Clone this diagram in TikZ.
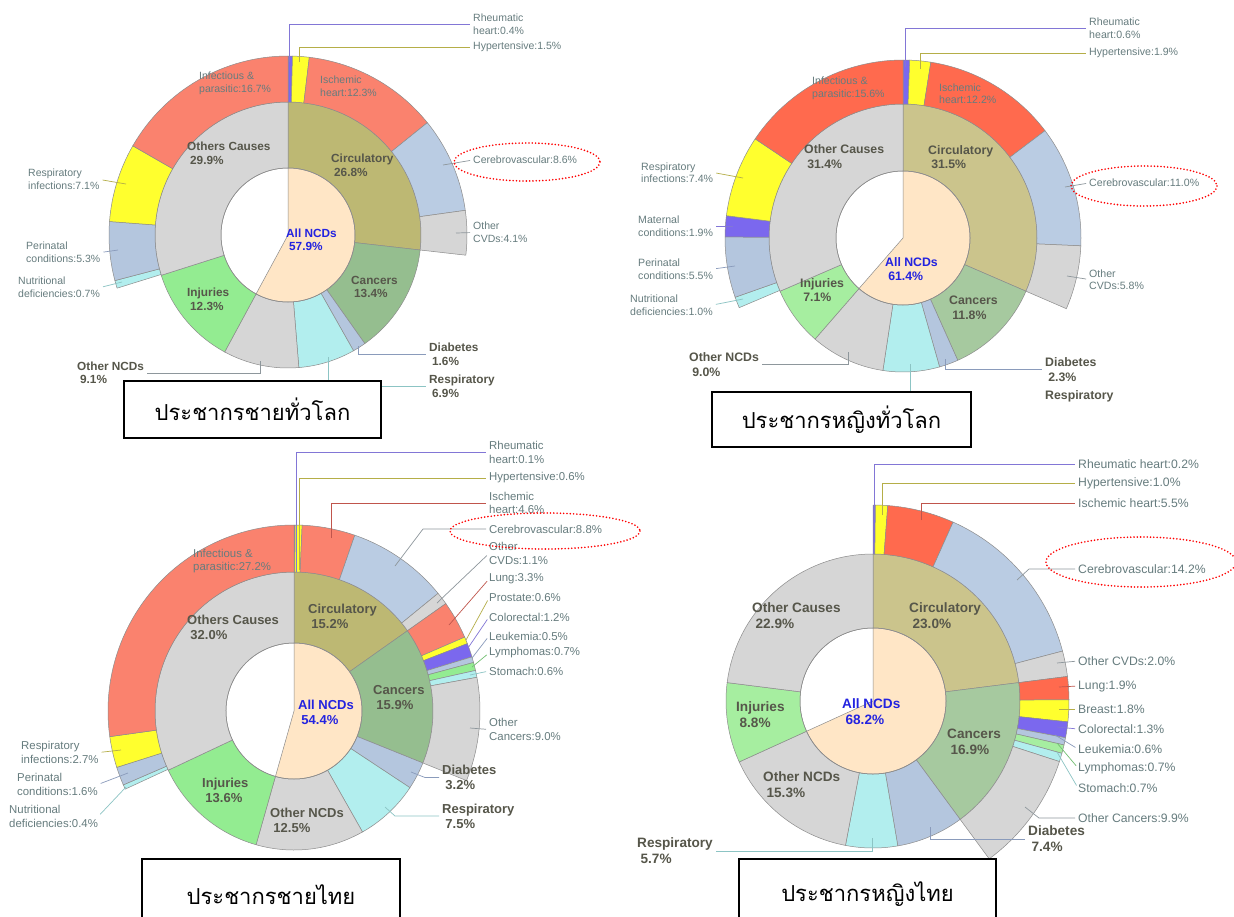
\documentclass[tikz,border=0pt]{standalone}
\usepackage{fontspec}
\setmainfont{Liberation Sans}
\newfontfamily\thaifont[Script=Thai]{Loma}
\definecolor{nbeige}{HTML}{FFE6C6}
\definecolor{circA}{HTML}{BDB873}
\definecolor{circB}{HTML}{CBC48C}
\definecolor{cancA}{HTML}{95BE8F}
\definecolor{cancB}{HTML}{A6C99F}
\definecolor{diab}{HTML}{B4C6DE}
\definecolor{resp}{HTML}{B2EEEE}
\definecolor{othr}{HTML}{D6D6D6}
\definecolor{injA}{HTML}{93EC91}
\definecolor{injB}{HTML}{A6EEA0}
\definecolor{rheu}{HTML}{7B68EE}
\definecolor{hyp}{HTML}{FFFF2E}
\definecolor{iscA}{HTML}{FA826E}
\definecolor{iscB}{HTML}{FF6A4E}
\definecolor{cere}{HTML}{BACCE3}
\definecolor{segline}{HTML}{8C8C8C}
\definecolor{lblgray}{HTML}{667C7E}
\definecolor{bldgray}{HTML}{56564A}
\definecolor{ncdblue}{HTML}{2323E0}
\definecolor{rheuline}{HTML}{8276D6}
\definecolor{hypline}{HTML}{B5AE48}
\definecolor{iscline}{HTML}{C0554C}
\definecolor{greyline}{HTML}{8E979C}
\definecolor{blueline}{HTML}{8A9BBB}
\definecolor{tealline}{HTML}{8CC4C4}
\definecolor{greenline}{HTML}{72C072}

% one piece of a ring: inner radius, outer radius, from %, to %, colour
\newcommand{\ringseg}[5]{%
  \filldraw[seg, fill=#5] ({-90+3.6*(#3)}:#1)
    arc[start angle={-90+3.6*(#3)}, end angle={-90+3.6*(#4)}, radius=#1]
    -- ({-90+3.6*(#4)}:#2)
    arc[start angle={-90+3.6*(#4)}, end angle={-90+3.6*(#3)}, radius=#2] -- cycle;}
\newcommand{\ncdwedge}[2]{%
  \filldraw[seg, fill=nbeige] (0,0) -- (-90:#1)
    arc[start angle=-90, end angle={-90+3.6*(#2)}, radius=#1] -- cycle;
  \draw[seg] (0,0) circle[radius=#1];}
\newcommand{\indline}{\\\hspace*{.25em}}

\begin{document}
\begin{tikzpicture}[x=1pt, y=-1pt,
    seg/.style={draw=segline, line width=0.5pt},
    lbl/.style={lblfont, text=lblgray, align=left, inner sep=0pt, anchor=west},
    bld/.style={bldfont, text=bldgray, align=left, inner sep=0pt, anchor=west},
    ncd/.style={bld, text=ncdblue},
    lead/.style={line width=0.7pt, shorten >=3pt},
    hilite/.style={draw=red, line width=1.8pt, dash pattern=on 0pt off 3.3pt, line cap=round},
    titlebox/.style={draw=black, line width=1.5pt, fill=white, inner sep=0pt,
        font=\thaifont\fontsize{22}{26}\selectfont},
    lblfont/.style={font=\fontsize{10.5}{13}\selectfont},
    bldfont/.style={font=\bfseries\fontsize{11.8}{13.5}\selectfont}]
    \useasboundingbox (0,0) rectangle (1234,916);
    \fill[white] (0,0) rectangle (1234,916);

    % male, world
    \begin{scope}
        \begin{scope}[shift={(288,235)}]
            \foreach \a/\b/\c in {0/26.8/circA, 26.8/40.2/cancA, 40.2/41.8/diab, 41.8/48.7/resp,
                48.7/57.9/othr, 57.9/70.1/injA, 70.1/100/othr}
                {\ringseg{67}{133}{\a}{\b}{\c}}
            \foreach \a/\b/\c in {0/0.4/rheu, 0.4/1.9/hyp, 1.9/14.2/iscA, 14.2/22.8/cere, 22.8/26.8/othr,
                70.2/70.9/resp, 70.9/76.2/diab, 76.2/83.3/hyp, 83.3/100/iscA}
                {\ringseg{133}{179}{\a}{\b}{\c}}
            \ncdwedge{67}{57.9}
        \end{scope}
        \node[lbl] (is1) at (320,86) {Ischemic\\heart:12.3\%};
        \node[lbl] (in1) at (199,83) {Infectious \&\\parasitic:16.7\%};
        \node[bld] (oc1) at (187,153.5) {Others Causes\indline29.9\%};
        \node[bld] (ci1) at (331,165.5) {Circulatory\indline26.8\%};
        \node[ncd] (nc1) at (286,240) {All NCDs\indline57.9\%};
        \node[bld] (ca1) at (351,287) {Cancers\indline13.4\%};
        \node[bld] (ij1) at (187,299.5) {Injuries\indline12.3\%};

        \node[lbl] (rh1) at (473,24) {Rheumatic\\heart:0.4\%};
        \node[lbl] (hy1) at (473,47) {Hypertensive:1.5\%};
        \node[lbl] (ce1) at (473,160) {Cerebrovascular:8.6\%};
        \node[lbl] (ov1) at (473,232.5) {Other\\CVDs:4.1\%};
        \node[lbl] (ri1) at (28,179.5) {Respiratory\\infections:7.1\%};
        \node[lbl] (pe1) at (26,252.5) {Perinatal\\conditions:5.3\%};
        \node[lbl] (nu1) at (18,287.5) {Nutritional\\deficiencies:0.7\%};
        \node[bld] (di1) at (429,354.5) {Diabetes\indline1.6\%};
        \node[bld] (re1) at (429,386.5) {Respiratory\indline6.9\%};
        \node[bld] (on1) at (77,373) {Other NCDs\indline9.1\%};

        \coordinate (rh1p) at (289,62);
        \coordinate (hy1p) at (299,62);
        \coordinate (ce1p) at (443,165);
        \coordinate (ov1p) at (456,233);
        \coordinate (ri1p) at (126,184);
        \coordinate (pe1p) at (118,250);
        \coordinate (nu1p) at (122,282);
        \coordinate (di1p) at (358,346);
        \coordinate (re1p) at (328,357);
        \coordinate (on1p) at (260,361);
        \draw[lead, rheuline] (rh1p) |- (rh1.west);
        \draw[lead, hypline] (hy1p) |- (hy1.west);
        \draw[lead, greyline] (ce1p) -- (ce1.west);
        \draw[lead, greyline] (ov1p) -- (ov1.west);
        \draw[lead, hypline] (ri1p) -- (ri1.east);
        \draw[lead, blueline] (pe1p) -- (pe1.east);
        \draw[lead, tealline] (nu1p) -- (nu1.east);
        \draw[lead, blueline] (di1p) |- (di1.west);
        \draw[lead, tealline] (re1p) |- (re1.west);
        \draw[lead, greyline] (on1p) |- (on1.east);
        \draw[hilite] (527,162) ellipse[x radius=73, y radius=19];
        \node[titlebox, minimum width=257pt, minimum height=57pt] (t1) at (252.5,409.5) {ประชากรชายทั่วโลก};
    \end{scope}

    % female, world
    \begin{scope}[lblfont/.style={font=\fontsize{10.6}{12.5}\selectfont},
        bldfont/.style={font=\bfseries\fontsize{12.3}{14.5}\selectfont}]
        \begin{scope}[shift={(903,238)}]
            \foreach \a/\b/\c in {0/31.5/circB, 31.5/43.3/cancB, 43.3/45.6/diab, 45.6/52.4/resp,
                52.4/61.4/othr, 61.4/68.5/injB, 68.5/100/othr}
                {\ringseg{67}{134}{\a}{\b}{\c}}
            \foreach \a/\b/\c in {0/0.6/rheu, 0.6/2.5/hyp, 2.5/14.7/iscB, 14.7/25.7/cere, 25.7/31.5/othr,
                68.6/69.6/resp, 69.6/75.1/diab, 75.1/77.0/rheu, 77.0/84.4/hyp, 84.4/100/iscB}
                {\ringseg{134}{178}{\a}{\b}{\c}}
            \ncdwedge{67}{61.4}
        \end{scope}
        \node[lbl] (is2) at (939,93.5) {Ischemic\\heart:12.2\%};
        \node[lbl] (in2) at (812,88.5) {Infectious \&\\parasitic:15.6\%};
        \node[bld] (oc2) at (804,156.5) {Other Causes\indline31.4\%};
        \node[bld] (ci2) at (928,157) {Circulatory\indline31.5\%};
        \node[ncd] (nc2) at (885,269) {All NCDs\indline61.4\%};
        \node[bld] (ca2) at (949,308) {Cancers\indline11.8\%};
        \node[bld] (ij2) at (800,290) {Injuries\indline7.1\%};

        \node[lbl] (rh2) at (1089,28) {Rheumatic\\heart:0.6\%};
        \node[lbl] (hy2) at (1089,53) {Hypertensive:1.9\%};
        \node[lbl] (ce2) at (1089,183) {Cerebrovascular:11.0\%};
        \node[lbl] (ov2) at (1089,279.5) {Other\\CVDs:5.8\%};
        \node[lbl] (ri2) at (641,172.5) {Respiratory\\infections:7.4\%};
        \node[lbl] (ma2) at (638,226) {Maternal\\conditions:1.9\%};
        \node[lbl] (pe2) at (638,269) {Perinatal\\conditions:5.5\%};
        \node[lbl] (nu2) at (630,305) {Nutritional\\deficiencies:1.0\%};
        \node[bld] (di2) at (1045,369.5) {Diabetes\indline2.3\%};
        \node[bld] (re2) at (1045,396) {Respiratory};
        \node[bld] (on2) at (689,364.5) {Other NCDs\indline9.0\%};

        \coordinate (rh2p) at (905,67);
        \coordinate (hy2p) at (920,69);
        \coordinate (ce2p) at (1065,187);
        \coordinate (ov2p) at (1067,276);
        \coordinate (ri2p) at (743,178);
        \coordinate (ma2p) at (733,226);
        \coordinate (pe2p) at (735,266);
        \coordinate (nu2p) at (743,299);
        \coordinate (di2p) at (945,359);
        \coordinate (re2p) at (910,364);
        \coordinate (re2e) at (910,400);
        \coordinate (on2p) at (848,352);
        \draw[lead, rheuline] (rh2p) |- (rh2.west);
        \draw[lead, hypline] (hy2p) |- (hy2.west);
        \draw[lead, greyline] (ce2p) -- (ce2.west);
        \draw[lead, greyline] (ov2p) -- (ov2.west);
        \draw[lead, hypline] (ri2p) -- (ri2.east);
        \draw[lead, rheuline] (ma2p) -- (ma2.east);
        \draw[lead, blueline] (pe2p) -- (pe2.east);
        \draw[lead, tealline] (nu2p) -- (nu2.east);
        \draw[lead, blueline] (di2p) |- (di2.west);
        \draw[lead, tealline] (re2p) -- (re2e);
        \draw[lead, greyline] (on2p) |- (on2.east);
        \draw[hilite] (1144,186) ellipse[x radius=73, y radius=20];
        \node[titlebox, minimum width=259pt, minimum height=55pt] (t2) at (841.5,419.5) {ประชากรหญิงทั่วโลก};
    \end{scope}

    % male, Thailand
    \begin{scope}[lblfont/.style={font=\fontsize{11.4}{13.5}\selectfont},
        bldfont/.style={font=\bfseries\fontsize{13}{15}\selectfont}]
        \begin{scope}[shift={(294,711)}]
            \foreach \a/\b/\c in {0/15.2/circA, 15.2/31.1/cancA, 31.1/34.3/diab, 34.3/41.8/resp,
                41.8/54.4/othr, 54.4/68.0/injA, 68.0/100/othr}
                {\ringseg{68}{139}{\a}{\b}{\c}}
            \foreach \a/\b/\c in {0/0.1/rheu, 0.1/0.7/hyp, 0.7/5.3/iscA, 5.3/14.1/cere, 14.1/15.2/othr,
                15.2/18.5/iscA, 18.5/19.1/hyp, 19.1/20.3/rheu, 20.3/20.8/diab, 20.8/21.5/injA,
                21.5/22.1/resp, 22.1/31.1/othr,
                68.1/68.5/resp, 68.5/70.1/diab, 70.1/72.8/hyp, 72.8/100/iscA}
                {\ringseg{139}{186}{\a}{\b}{\c}}
            \ncdwedge{68}{54.4}
        \end{scope}
        \node[lbl] (in3) at (193,561) {Infectious \&\\parasitic:27.2\%};
        \node[bld] (oc3) at (187,627.5) {Others Causes\indline32.0\%};
        \node[bld] (ci3) at (308,616) {Circulatory\indline15.2\%};
        \node[bld] (ca3) at (373,697.5) {Cancers\indline15.9\%};
        \node[ncd] (nc3) at (298,712.5) {All NCDs\indline54.4\%};
        \node[bld] (ij3) at (202,790) {Injuries\indline13.6\%};
        \node[bld] (on3) at (270,820.5) {Other NCDs\indline12.5\%};

        \node[lbl] (rh3) at (489,452.5) {Rheumatic\\heart:0.1\%};
        \node[lbl] (hy3) at (489,478) {Hypertensive:0.6\%};
        \node[lbl] (is3) at (489,503) {Ischemic\\heart:4.6\%};
        \node[lbl] (ce3) at (489,529) {Cerebrovascular:8.8\%};
        \node[lbl] (ov3) at (489,553.5) {Other\\CVDs:1.1\%};
        \node[lbl] (lu3) at (489,579) {Lung:3.3\%};
        \node[lbl] (pr3) at (489,598) {Prostate:0.6\%};
        \node[lbl] (co3) at (489,617) {Colorectal:1.2\%};
        \node[lbl] (le3) at (489,636) {Leukemia:0.5\%};
        \node[lbl] (ly3) at (489,653) {Lymphomas:0.7\%};
        \node[lbl] (st3) at (489,671) {Stomach:0.6\%};
        \node[lbl] (ok3) at (489,729.5) {Other\\Cancers:9.0\%};
        \node[bld] (di3) at (442,777.5) {Diabetes\indline3.2\%};
        \node[bld] (re3) at (442,816) {Respiratory\indline7.5\%};
        \node[lbl] (ri3) at (21,752.5) {Respiratory\\infections:2.7\%};
        \node[lbl] (pe3) at (17,784.5) {Perinatal\\conditions:1.6\%};
        \node[lbl] (nu3) at (9,816.5) {Nutritional\\deficiencies:0.4\%};

        \coordinate (rh3p) at (296,572);
        \coordinate (hy3p) at (299,570);
        \coordinate (is3p) at (331,538);
        \coordinate (ce3p) at (395,566);
        \coordinate (ce3k) at (423,529);
        \coordinate (ov3p) at (437,603);
        \coordinate (lu3p) at (449,625);
        \coordinate (pr3p) at (466,640);
        \coordinate (co3p) at (468,648);
        \coordinate (le3p) at (472,658);
        \coordinate (ly3p) at (472,667);
        \coordinate (st3p) at (470,675);
        \coordinate (ok3p) at (470,728);
        \coordinate (di3p) at (411,772);
        \coordinate (di3k) at (425,777.5);
        \coordinate (re3p) at (385,807);
        \coordinate (re3k) at (395,816);
        \coordinate (ri3p) at (121,750);
        \coordinate (pe3p) at (128,773);
        \coordinate (nu3p) at (126,787);
        \draw[lead, rheuline] (rh3p) |- (rh3.west);
        \draw[lead, hypline] (hy3p) |- (hy3.west);
        \draw[lead, iscline] (is3p) |- (is3.west);
        \draw[lead, greyline] (ce3p) -- (ce3k) -- (ce3.west);
        \draw[lead, greyline] (ov3p) -- (ov3.west);
        \draw[lead, iscline] (lu3p) -- (lu3.west);
        \draw[lead, hypline] (pr3p) -- (pr3.west);
        \draw[lead, rheuline] (co3p) -- (co3.west);
        \draw[lead, blueline] (le3p) -- (le3.west);
        \draw[lead, greenline] (ly3p) -- (ly3.west);
        \draw[lead, tealline] (st3p) -- (st3.west);
        \draw[lead, greyline] (ok3p) -- (ok3.west);
        \draw[lead, blueline] (di3p) -- (di3k) -- (di3.west);
        \draw[lead, tealline] (re3p) -- (re3k) -- (re3.west);
        \draw[lead, hypline] (ri3p) -- (ri3.east);
        \draw[lead, blueline] (pe3p) -- (pe3.east);
        \draw[lead, tealline] (nu3p) -- (nu3.east);
        \draw[hilite] (545,531) ellipse[x radius=95, y radius=18];
        \node[titlebox, minimum width=258pt, minimum height=71pt] (t3) at (271,894.5) {ประชากรชายไทย};
    \end{scope}

    % female, Thailand
    \begin{scope}[lblfont/.style={font=\fontsize{12.2}{14.5}\selectfont},
        bldfont/.style={font=\bfseries\fontsize{13.6}{16}\selectfont}]
        \begin{scope}[shift={(873,701)}]
            \foreach \a/\b/\c in {0/23.0/circB, 23.0/39.9/cancB, 39.9/47.3/diab, 47.3/53.0/resp,
                53.0/68.2/othr, 68.2/77.0/injB, 77.0/100/othr}
                {\ringseg{73}{147}{\a}{\b}{\c}}
            \foreach \a/\b/\c in {0/0.2/rheu, 0.2/1.2/hyp, 1.2/6.7/iscB, 6.7/20.9/cere, 20.9/23.0/othr,
                23.0/24.9/iscB, 24.9/26.7/hyp, 26.7/28.0/rheu, 28.0/28.6/diab, 28.6/29.3/injB,
                29.3/30.0/resp, 30.0/39.9/othr}
                {\ringseg{147}{196}{\a}{\b}{\c}}
            \ncdwedge{73}{68.2}
        \end{scope}
        \node[bld] (oc4) at (752,615.5) {Other Causes\indline22.9\%};
        \node[bld] (ci4) at (909,615.5) {Circulatory\indline23.0\%};
        \node[ncd] (nc4) at (842,712) {All NCDs\indline68.2\%};
        \node[bld] (ca4) at (947,742) {Cancers\indline16.9\%};
        \node[bld] (ij4) at (736,715) {Injuries\indline8.8\%};
        \node[bld] (on4) at (763,785) {Other NCDs\indline15.3\%};

        \node[lbl] (rh4) at (1078,464) {Rheumatic heart:0.2\%};
        \node[lbl] (hy4) at (1078,483) {Hypertensive:1.0\%};
        \node[lbl] (is4) at (1078,503) {Ischemic heart:5.5\%};
        \node[lbl] (ce4) at (1078,569) {Cerebrovascular:14.2\%};
        \node[lbl] (ov4) at (1078,661) {Other CVDs:2.0\%};
        \node[lbl] (lu4) at (1078,686) {Lung:1.9\%};
        \node[lbl] (br4) at (1078,709) {Breast:1.8\%};
        \node[lbl] (co4) at (1078,729) {Colorectal:1.3\%};
        \node[lbl] (le4) at (1078,749) {Leukemia:0.6\%};
        \node[lbl] (ly4) at (1078,768) {Lymphomas:0.7\%};
        \node[lbl] (st4) at (1078,788) {Stomach:0.7\%};
        \node[lbl] (ok4) at (1078,818) {Other Cancers:9.9\%};
        \node[bld] (di4) at (1028,839) {Diabetes\indline7.4\%};
        \node[bld] (re4) at (637,851) {Respiratory\indline5.7\%};

        \coordinate (rh4p) at (874,520);
        \coordinate (hy4p) at (882,515);
        \coordinate (is4p) at (921,520);
        \coordinate (ce4p) at (1017,580);
        \coordinate (ce4k) at (1029,569);
        \coordinate (ov4p) at (1057,663);
        \coordinate (lu4p) at (1059,687);
        \coordinate (br4p) at (1059,709);
        \coordinate (co4p) at (1057,727);
        \coordinate (le4p) at (1055,735);
        \coordinate (ly4p) at (1057,743);
        \coordinate (st4p) at (1057,752);
        \coordinate (ok4p) at (1025,807);
        \coordinate (ok4k) at (1039,818);
        \coordinate (di4p) at (930,827);
        \coordinate (re4p) at (872,838);
        \draw[lead, rheuline] (rh4p) |- (rh4.west);
        \draw[lead, hypline] (hy4p) |- (hy4.west);
        \draw[lead, iscline] (is4p) |- (is4.west);
        \draw[lead, greyline] (ce4p) -- (ce4k) -- (ce4.west);
        \draw[lead, greyline] (ov4p) -- (ov4.west);
        \draw[lead, iscline] (lu4p) -- (lu4.west);
        \draw[lead, hypline] (br4p) -- (br4.west);
        \draw[lead, rheuline] (co4p) -- (co4.west);
        \draw[lead, blueline] (le4p) -- (le4.west);
        \draw[lead, greenline] (ly4p) -- (ly4.west);
        \draw[lead, tealline] (st4p) -- (st4.west);
        \draw[lead, greyline] (ok4p) -- (ok4k) -- (ok4.west);
        \draw[lead, blueline] (di4p) |- (di4.west);
        \draw[lead, tealline] (re4p) |- (re4.east);
        \draw[hilite] (1141,562) ellipse[x radius=95, y radius=25];
        \node[titlebox, minimum width=257pt, minimum height=71pt] (t4) at (867.5,894.5) {ประชากรหญิงไทย};
    \end{scope}
\end{tikzpicture}
\end{document}
